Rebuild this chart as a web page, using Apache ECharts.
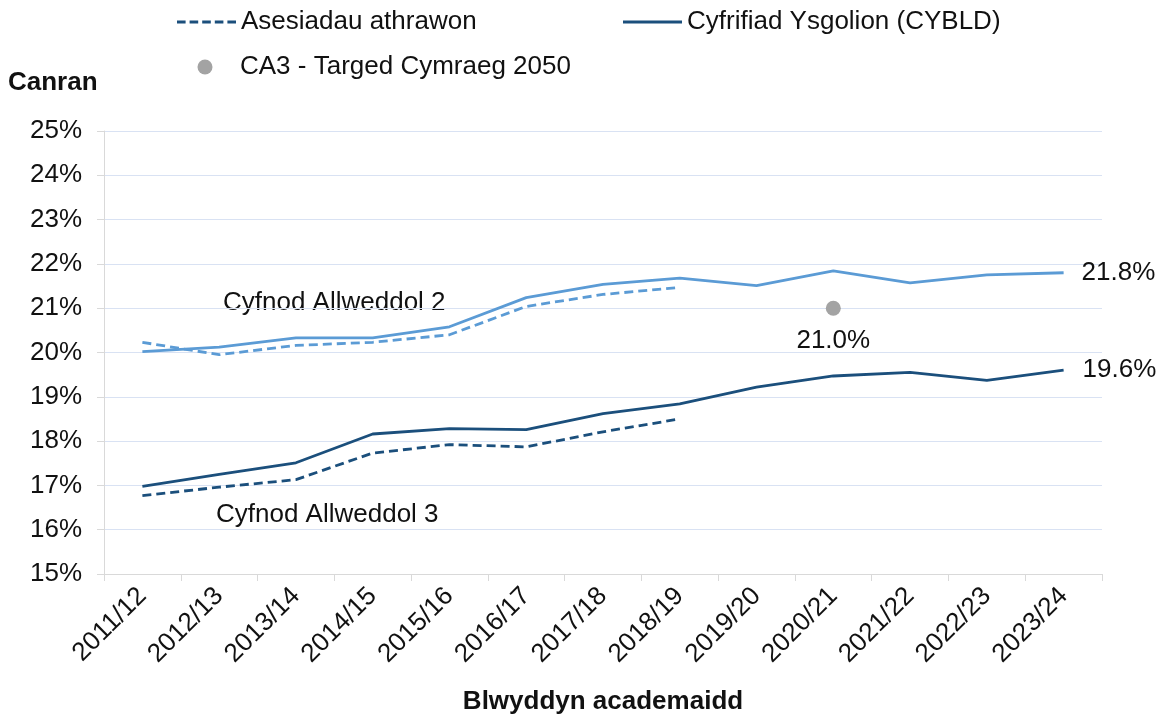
<!DOCTYPE html>
<html>
<head>
<meta charset="utf-8">
<script src="https://cdn.jsdelivr.net/npm/echarts@6/dist/echarts.min.js"></script>
<style>html,body{margin:0;padding:0;background:#fff}#c{width:1168px;height:717px}</style>
</head>
<body>
<div id="c"></div>
<script>
const years = ['2011/12','2012/13','2013/14','2014/15','2015/16','2016/17','2017/18','2018/19','2019/20','2020/21','2021/22','2022/23','2023/24'];
const ks2Census = [20.02, 20.12, 20.33, 20.33, 20.58, 21.24, 21.54, 21.68, 21.51, 21.84, 21.57, 21.75, 21.8];
const ks2Teacher = [20.23, 19.95, 20.16, 20.23, 20.40, 21.04, 21.31, 21.47, null, null, null, null, null];
const ks3Census = [16.98, 17.25, 17.51, 18.16, 18.28, 18.26, 18.62, 18.84, 19.22, 19.47, 19.55, 19.37, 19.6];
const ks3Teacher = [16.77, 16.96, 17.13, 17.73, 17.92, 17.87, 18.21, 18.50, null, null, null, null, null];
const targetYear = ['2020/21'];
const targetValue = [21.0];
const yTicks = [15,16,17,18,19,20,21,22,23,24,25];

const LIGHT = '#5b9bd5';
const DARK = '#1b4f7c';
const GREY = '#a3a3a3';
const TXT = '#111111';
const FONT = 'Liberation Sans, Arial, sans-serif';
const FS = 26;

const DASH_ICON = 'path://M0,0h8.6v3h-8.6z M12.6,0h8.6v3h-8.6z M25.2,0h8.6v3h-8.6z M37.8,0h8.6v3h-8.6z M50.4,0h8.6v3h-8.6z';

const chart = echarts.init(document.getElementById('c'), null, {renderer: 'canvas'});
const pct1 = p => (Array.isArray(p.value) ? p.value[1] : p.value).toFixed(1) + '%';
const legText = {fontSize: FS, color: TXT, fontFamily: FONT};

const option = {
  backgroundColor: '#fff',
  animation: false,
  textStyle: {fontFamily: FONT, color: TXT},
  grid: {left: 104, right: 66, top: 131, bottom: 143, containLabel: false, outerBoundsMode: 'none'},
  legend: [
    {data: ['Asesiadau athrawon'], left: 172, top: 4, itemWidth: 59, itemHeight: 3, icon: DASH_ICON,
     textStyle: legText, selectedMode: false},
    {data: ['Cyfrifiad Ysgolion (CYBLD)'], left: 618, top: 4, itemWidth: 59, itemHeight: 3, icon: 'rect',
     textStyle: legText, selectedMode: false},
    {data: ['CA3 - Targed Cymraeg 2050'], left: 192.5, top: 49, itemWidth: 15, itemHeight: 15, icon: 'circle',
     textStyle: Object.assign({}, legText, {padding: [0,0,0,22.5]}), selectedMode: false}
  ],
  xAxis: {
    type: 'category',
    data: years,
    boundaryGap: true,
    name: 'Blwyddyn academaidd',
    nameLocation: 'middle',
    nameGap: 115,
    nameTextStyle: {fontSize: FS, fontWeight: 'bold', color: TXT, fontFamily: FONT},
    axisLine: {show: true, lineStyle: {color: '#d9d9d9', width: 1}},
    axisTick: {show: true, length: 7, lineStyle: {color: '#d9d9d9'}},
    axisLabel: {rotate: 45, fontSize: FS, color: TXT, fontFamily: FONT, margin: 18, interval: 0}
  },
  yAxis: {
    type: 'value',
    min: yTicks[0], max: yTicks[yTicks.length-1], interval: 1,
    axisLine: {show: true, lineStyle: {color: '#d9d9d9', width: 1}},
    axisTick: {show: true, length: 7, lineStyle: {color: '#d9d9d9'}},
    axisLabel: {formatter: '{value}%', fontSize: FS, color: TXT, fontFamily: FONT, margin: 22},
    splitLine: {show: true, lineStyle: {color: '#d9e2f3', width: 1}}
  },
  graphic: [
    {type: 'text', x: 8, y: 83, style: {text: 'Canran', font: 'bold 26px ' + FONT, fill: TXT, verticalAlign: 'middle'}},
    {type: 'text', x: 223, y: 303, style: {text: 'Cyfnod Allweddol 2', font: '26px ' + FONT, fill: TXT, verticalAlign: 'middle'}},
    {type: 'text', x: 216, y: 515, style: {text: 'Cyfnod Allweddol 3', font: '26px ' + FONT, fill: TXT, verticalAlign: 'middle'}}
  ],
  series: [
    {name: 'CA2 - Cyfrifiad', type: 'line', data: ks2Census, symbol: 'none', lineStyle: {color: LIGHT, width: 2.8}, itemStyle: {color: LIGHT},
     endLabel: {show: true, formatter: pct1, fontSize: FS, color: TXT, fontFamily: FONT, distance: 18}, z: 3},
    {name: 'CA2 - Asesiadau', type: 'line', data: ks2Teacher, symbol: 'none', lineStyle: {color: LIGHT, width: 2.8, type: [9,5]}, itemStyle: {color: LIGHT}, z: 2},
    {name: 'Cyfrifiad Ysgolion (CYBLD)', type: 'line', data: ks3Census, symbol: 'none', lineStyle: {color: DARK, width: 2.8}, itemStyle: {color: DARK},
     endLabel: {show: true, formatter: pct1, fontSize: FS, color: TXT, fontFamily: FONT, distance: 19}, z: 3},
    {name: 'Asesiadau athrawon', type: 'line', data: ks3Teacher, symbol: 'none', lineStyle: {color: DARK, width: 2.8, type: [9,5]}, itemStyle: {color: DARK}, z: 2},
    {name: 'CA3 - Targed Cymraeg 2050', type: 'scatter', data: targetYear.map((y,i) => [y, targetValue[i]]), symbol: 'circle', symbolSize: 15,
     itemStyle: {color: GREY, opacity: 1},
     label: {show: true, position: 'bottom', distance: 12, formatter: pct1, fontSize: FS, color: TXT, fontFamily: FONT}, z: 4}
  ]
};
chart.setOption(option);
</script>
</body>
</html>
